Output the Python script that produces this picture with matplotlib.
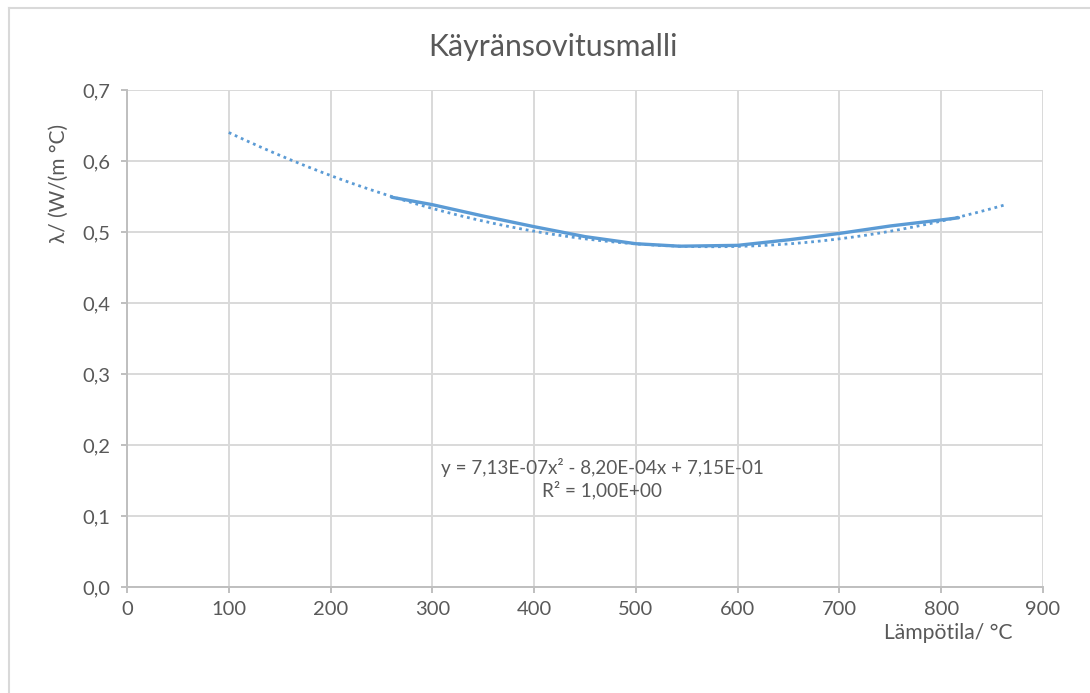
import numpy as np
import matplotlib.pyplot as plt
from matplotlib.lines import Line2D
from matplotlib.ticker import FuncFormatter, MultipleLocator

plt.rcParams['font.family'] = ['Lato', 'DejaVu Sans']

temp = [260, 300, 350, 400, 450, 500, 543, 600, 650, 700, 750, 800, 817]
lam = [0.549, 0.5385, 0.5225, 0.5075, 0.4935, 0.4835, 0.4800, 0.4812, 0.4890, 0.4980, 0.5085, 0.5170, 0.5200]

# polynomial trendline, coefficients as printed on the chart
coef = [7.13e-07, -8.20e-04, 7.15e-01]
trend_start, trend_end = 100, 862

title = "Käyränsovitusmalli"
xlabel = "Lämpötila/ °C"
ylabel = "λ/ (W/(m °C)"
eq_text = "y = 7,13E-07x² - 8,20E-04x + 7,15E-01\nR² = 1,00E+00"

blue = '#5b9bd5'
txt = '#595959'
grid = '#d9d9d9'
axcol = '#bfbfbf'

fig = plt.figure(figsize=(10.9, 6.93), dpi=100)
ax = fig.add_axes([127/1090, 1-587/693, (1043-127)/1090, (587-90)/693])

xt = np.linspace(trend_start, trend_end, 300)
ax.plot(xt, np.polyval(coef, xt), color=blue, lw=2.0, ls=(0, (1, 1.4)), zorder=3)
ax.plot(temp, lam, color=blue, lw=2.4, solid_capstyle='round',
        solid_joinstyle='round', zorder=4)

ax.set_xlim(0, 900)
ax.set_ylim(0, 0.7)
ax.xaxis.set_major_locator(MultipleLocator(100))
ax.yaxis.set_major_locator(MultipleLocator(0.1))
ax.yaxis.set_major_formatter(FuncFormatter(lambda v, p: f"{v:.1f}".replace('.', ',')))
ax.grid(True, color=grid, lw=1.4, zorder=0)
ax.set_axisbelow(True)
for s in ['top', 'right']:
    ax.spines[s].set_visible(False)
for s in ['left', 'bottom']:
    ax.spines[s].set_color(axcol)
    ax.spines[s].set_linewidth(1.4)
ax.tick_params(colors=axcol, labelcolor=txt, labelsize=14.5, length=4.3, width=1.4)
ax.tick_params(axis='y', pad=8)
ax.tick_params(axis='x', pad=6)

ax.text(467, 0.152, eq_text, ha='center', va='center', fontsize=13.6, color=txt,
        linespacing=1.25)

fig.text(553/1090, 1-47/693, title, ha='center', va='center', fontsize=21.8, color=txt)
fig.text(59/1090, 1-183/693, ylabel, ha='center', va='center', rotation=90,
         fontsize=15, color=txt)
fig.text(948/1090, 1-633/693, xlabel, ha='center', va='center', fontsize=15.2, color=txt)

# outer chart border (cropped at the right and bottom)
fig.add_artist(Line2D([9/1090, 1], [1-7.5/693, 1-7.5/693], color=grid, lw=1.5))
fig.add_artist(Line2D([9/1090, 9/1090], [0, 1-7.5/693], color=grid, lw=1.5))

fig.savefig('out.png', dpi=100)
